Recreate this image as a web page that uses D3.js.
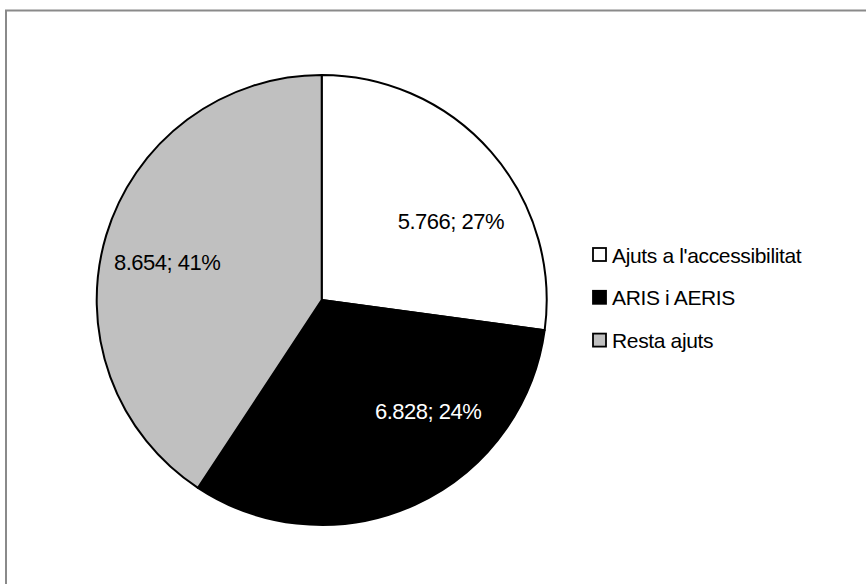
<!DOCTYPE html>
<html>
<head>
<meta charset="utf-8">
<script src="https://cdn.jsdelivr.net/npm/d3@7"></script>
<style>
  html, body { margin: 0; padding: 0; background: #fff; }
  svg { display: block; }
  text { font-family: "Liberation Sans", Arial, sans-serif; fill: #000; }
</style>
</head>
<body>
<svg id="chart" width="866" height="584"></svg>
<script>
// Ajuts concedits per tipus
const categories = ["Ajuts a l'accessibilitat", "ARIS i AERIS", "Resta ajuts"];
const values = [5.766, 6.828, 8.654];
const percentLabels = ["27%", "24%", "41%"];
const fills = ["#ffffff", "#000000", "#c0c0c0"];
const labelColors = ["#000000", "#ffffff", "#000000"];
// small nudges applied to each data label after placing it on the label arc
const labelNudges = [[14, 22], [43, -28], [-8, 6]];

const svg = d3.select("#chart");
const W = 866, H = 584;

// chart area frame
svg.append("rect")
  .attr("x", 6).attr("y", 10.5)
  .attr("width", W + 20).attr("height", H + 20)
  .attr("fill", "#fff")
  .attr("stroke", "#8a8a8a").attr("stroke-width", 2);

const cx = 321.7, cy = 300, R = 225;

const pie = d3.pie().sort(null).value(d => d);
const arcs = pie(values);
const arc = d3.arc().innerRadius(0).outerRadius(R);

const g = svg.append("g").attr("transform", `translate(${cx},${cy})`);

g.selectAll("path.slice")
  .data(arcs)
  .join("path")
  .attr("class", "slice")
  .attr("d", arc)
  .attr("fill", (d, i) => fills[i])
  .attr("stroke", "#000")
  .attr("stroke-width", 2)
  .attr("stroke-linejoin", "round");

// data labels inside each slice
const labelArc = d3.arc().innerRadius(R * 0.68).outerRadius(R * 0.68);
g.selectAll("text.lbl")
  .data(arcs)
  .join("text")
  .attr("class", "lbl")
  .attr("x", (d, i) => labelArc.centroid(d)[0] + labelNudges[i][0])
  .attr("y", (d, i) => labelArc.centroid(d)[1] + labelNudges[i][1])
  .attr("text-anchor", "middle")
  .attr("dominant-baseline", "central")
  .attr("font-size", 22)
  .attr("letter-spacing", -0.5)
  .style("fill", (d, i) => labelColors[i])
  .text((d, i) => d.data.toFixed(3) + "; " + percentLabels[i]);

// legend
const legend = svg.append("g").attr("transform", "translate(592,254.5)");
const rowH = 42.8;
const rows = legend.selectAll("g.row")
  .data(categories)
  .join("g")
  .attr("class", "row")
  .attr("transform", (d, i) => `translate(0,${i * rowH})`);

rows.append("rect")
  .attr("x", 1).attr("y", -6.5)
  .attr("width", 13).attr("height", 13)
  .attr("fill", (d, i) => fills[i])
  .attr("stroke", "#000").attr("stroke-width", 1.8);

rows.append("text")
  .attr("x", 20).attr("y", 0.5)
  .attr("dominant-baseline", "central")
  .attr("font-size", 21)
  .attr("letter-spacing", -0.35)
  .text(d => d);
</script>
</body>
</html>
